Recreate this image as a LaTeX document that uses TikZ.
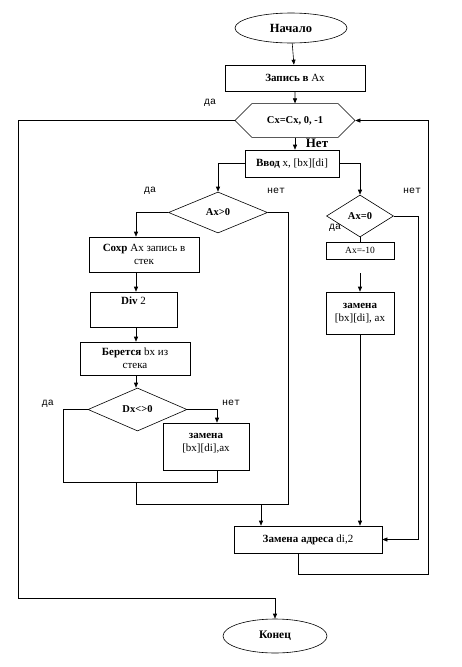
\documentclass[tikz,border=0pt]{standalone}
\usepackage{fontspec}
\setmainfont{Liberation Serif}
\setmonofont{Liberation Mono}
\usetikzlibrary{shapes.geometric,shapes.misc,arrows.meta}
\tikzset{
  box/.style={draw,rectangle,inner sep=1pt,align=center,font=\fontsize{11}{13}\selectfont},
  term/.style={draw,ellipse,inner sep=0pt,font=\fontsize{11.5}{13}\selectfont\bfseries},
  cond/.style={draw,diamond,inner sep=0pt,font=\fontsize{10.5}{12}\selectfont\bfseries},
  loopbox/.style={draw,chamfered rectangle,chamfered rectangle xsep=20pt,chamfered rectangle ysep=12.5pt,inner sep=0pt,font=\fontsize{10.5}{12}\selectfont\bfseries},
  answer/.style={font=\fontsize{10}{11}\ttfamily},
  arr/.style={-{Triangle[length=5pt,width=4pt]}}
}
\begin{document}
\begin{tikzpicture}[x=1pt,y=-1pt,line width=0.6pt]
  \useasboundingbox (0,0) rectangle (462,667);
  % main column
  \node[term,minimum width=112pt,minimum height=30pt,font=\fontsize{12.5}{14}\selectfont\bfseries] (start) at (291,28) {Начало};
  \node[box,minimum width=140pt,minimum height=26pt] (zap) at (295,78) {\textbf{Запись в} Ax};
  \node[loopbox,minimum width=120pt,minimum height=25pt] (cx) at (295,120.5) {Cx=Cx, 0, -1};
  \node[box,minimum width=94pt,minimum height=27pt] (vvod) at (292,163.5) {\textbf{Ввод} x, [bx][di]};
  % left branch
  \node[cond,minimum width=99pt,minimum height=41pt] (axg) at (218,212.5) {Ax>0};
  \node[box,minimum width=110pt,minimum height=35pt] (sohr) at (144,254.5) {\textbf{Сохр} Ax запись в\\стек};
  \node[box,minimum width=87pt,minimum height=35pt] (divb) at (133.5,309.5) {\textbf{Div} 2\\ \strut};
  \node[box,minimum width=110pt,minimum height=33pt] (ber) at (135,358.5) {\textbf{Берется} bx из\\стека};
  \node[cond,minimum width=99pt,minimum height=43pt] (dx) at (137.5,409.5) {Dx<>0};
  \node[box,minimum width=86pt,minimum height=47pt] (zam1) at (206,446.5) {\textbf{замена}\\{}[bx][di],ax\\[-4pt]};
  % right branch
  \node[cond,minimum width=67pt,minimum height=42pt] (ax0) at (360,216) {Ax=0};
  \node[box,minimum width=68pt,minimum height=17pt,font=\fontsize{9.5}{11}\selectfont] (axm) at (360,250.5) {Ax=-10};
  \node[box,minimum width=68pt,minimum height=42pt] (zr) at (360,313) {\textbf{замена}\\{}[bx][di], ax};
  \node[box,minimum width=148pt,minimum height=27pt] (zamadr) at (308,539.5) {\textbf{Замена адреса} di,2};
  \node[term,minimum width=104pt,minimum height=34pt] (konec) at (275,636) {Конец};
  % answers
  \node[answer] (yes1) at (210,103) {да};
  \node[font=\fontsize{13}{15}\selectfont\bfseries] (no1) at (317,143) {Нет};
  \node[answer] (yes2) at (150,191) {да};
  \node[answer] (no2) at (276,191) {нет};
  \node[answer] (no3) at (412,191) {нет};
  \node[answer] (yes3) at (335,228) {да};
  \node[answer] (yes4) at (48,404) {да};
  \node[answer] (no4) at (231,403) {нет};
  % helper points
  \coordinate (colL) at (136,0);
  \coordinate (colM) at (217,0);
  \coordinate (colR) at (418,0);
  \coordinate (colO) at (428,0);
  \coordinate (dxl) at (63,482);
  \coordinate (j1) at (136,504);
  \coordinate (j2) at (261,504);
  % connectors
  \draw[arr] (start) -- (zap);
  \draw[arr] (zap.south -| cx.north) -- (cx);
  \draw[arr] (cx.south) -- (cx.south |- vvod.north);
  \draw[arr] (vvod.west) -| (axg.north);
  \draw[arr] (vvod.east) -| (ax0.north);
  \draw[arr] (axg.west) -| (sohr.north -| colL);
  \draw[arr] (sohr.south -| colL) -- (divb.north -| colL);
  \draw[arr] (divb.south -| colL) -- (ber.north -| colL);
  \draw[arr] (ber.south -| colL) -- (dx.north -| colL);
  \draw[arr] (dx.east) -| (zam1.north -| colM);
  \draw (dx.west) -| (dxl) -| (zam1.south -| colM);
  \draw (dxl -| colL) -- (j1);
  \draw (axg.east) -| (288,504) -- (j1);
  \draw[arr] (j2) -- (j2 |- zamadr.north);
  \draw (ax0.south) -- (axm.north);
  \draw[arr,shorten <=14pt] (axm.south) -- (zr.north);
  \draw[arr] (zr.south) -- (zr.south |- zamadr.north);
  \draw[arr] (ax0.east) -| (colR |- zamadr.east) -- (zamadr.east);
  \draw[arr] ([xshift=-10pt]zamadr.south) |- (colO |- 0,574) |- (cx.east);
  \draw[arr] (cx.west) -| (18,598) -| (konec.north);
\end{tikzpicture}
\end{document}
